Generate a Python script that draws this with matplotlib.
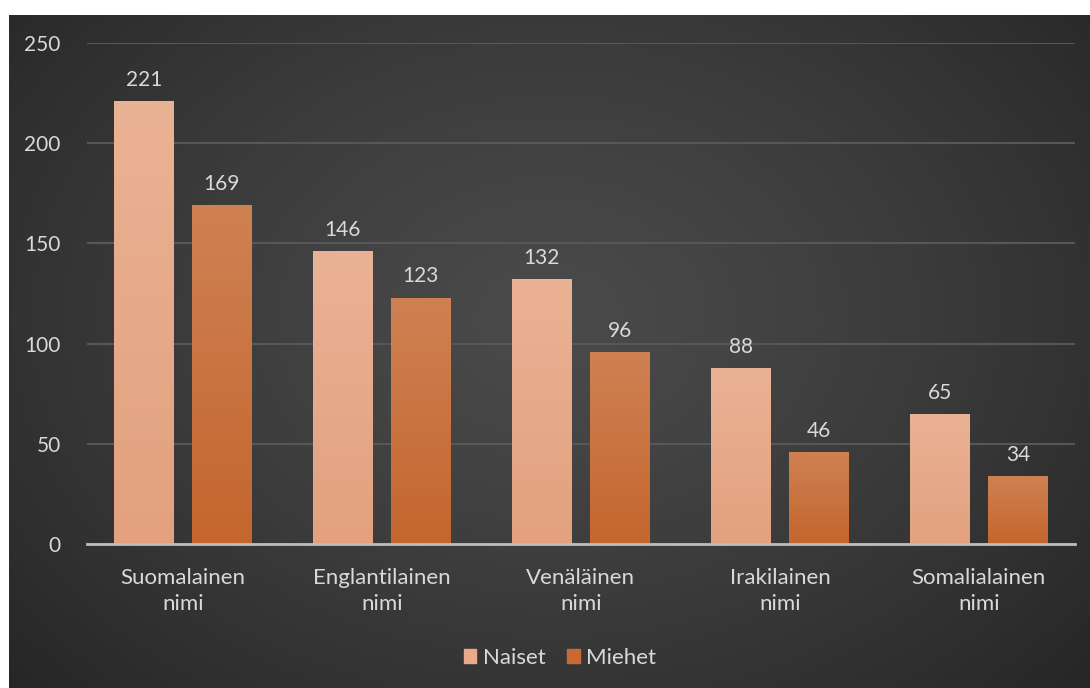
import matplotlib
matplotlib.use("Agg")
import matplotlib.pyplot as plt
import numpy as np

categories = ["Suomalainen\nnimi", "Englantilainen\nnimi", "Venäläinen\nnimi",
              "Irakilainen\nnimi", "Somalialainen\nnimi"]
naiset = [221, 146, 132, 88, 65]
miehet = [169, 123, 96, 46, 34]
series_names = ["Naiset", "Miehet"]

plt.rcParams['font.family'] = ['Lato', 'DejaVu Sans']
text_col = "#d9d9d9"

fig = plt.figure(figsize=(10.9, 6.88), dpi=100, facecolor="white")

# dark radial background, a little lighter in the middle
bg = fig.add_axes([9 / 1090, 0, 1 - 9 / 1090, 1 - 15 / 688])
yy, xx = np.mgrid[0:1:300j, 0:1:500j]
r = np.sqrt(((xx - 0.5) / 0.75) ** 2 + ((yy - 0.45) / 0.9) ** 2)
shade = 0.29 - 0.16 * np.clip(r, 0, 1) ** 1.3
bg.imshow(np.dstack([shade] * 3), aspect="auto", extent=[0, 1, 0, 1],
          interpolation="bilinear")
bg.axis("off")

ax = fig.add_axes([87 / 1090, 1 - 544 / 688, (1075 - 87) / 1090, (544 - 43) / 688])
ax.set_facecolor("none")
ax.patch.set_alpha(0)

x = np.arange(len(categories))
w = 0.30
off = 0.196

def grad_bar(xc, h, top, bottom):
    bar = ax.bar(xc, h, w, color=bottom, zorder=2, linewidth=0)[0]
    g = np.linspace(0, 1, 64).reshape(-1, 1)
    c1 = np.array(matplotlib.colors.to_rgb(top))
    c2 = np.array(matplotlib.colors.to_rgb(bottom))
    img = c2 + (c1 - c2) * g
    im = ax.imshow(img.reshape(64, 1, 3), extent=[xc - w / 2, xc + w / 2, 0, h],
                   origin="lower", aspect="auto", zorder=3, interpolation="bilinear")
    im.set_clip_path(bar)
    ax.annotate(str(h), (xc, h), xytext=(0, 8), textcoords="offset points",
                ha="center", va="bottom", color=text_col, fontsize=15)
    return bar

for i in range(len(categories)):
    grad_bar(x[i] - off, naiset[i], "#eab294", "#e3a17f")
    grad_bar(x[i] + off, miehet[i], "#cf8153", "#c4662e")

ax.set_xlim(-0.482, 4.483)
ax.set_ylim(0, 250)
ax.set_yticks(range(0, 251, 50))
ax.yaxis.grid(True, color="#575757", linewidth=1.5, zorder=0)
ax.set_axisbelow(True)
for s in ["top", "right", "left"]:
    ax.spines[s].set_visible(False)
ax.spines["bottom"].set_color("#bdbdbd")
ax.spines["bottom"].set_linewidth(2)
ax.spines["bottom"].set_zorder(5)

ax.set_xticks(x)
ax.set_xticklabels(categories, color=text_col, fontsize=16, linespacing=1.4)
ax.tick_params(axis="x", length=0, pad=17)
ax.tick_params(axis="y", length=0, pad=19, labelcolor=text_col, labelsize=15)

handles = [plt.Rectangle((0, 0), 1, 1, color="#e9a98a"),
           plt.Rectangle((0, 0), 1, 1, color="#c96a34")]
fig.legend(handles, series_names, loc="center", bbox_to_anchor=(560 / 1090, 1 - 658 / 688),
           ncol=2, frameon=False, fontsize=16, labelcolor=text_col,
           handlelength=0.55, handleheight=0.55, handletextpad=0.3, columnspacing=1.0)

fig.savefig("out.png", dpi=100, facecolor="white")
